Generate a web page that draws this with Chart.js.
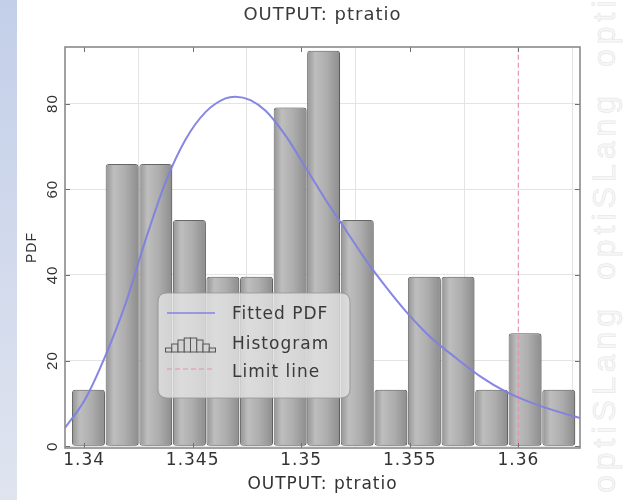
<!DOCTYPE html>
<html><head><meta charset="utf-8">
<script src="https://cdn.jsdelivr.net/npm/chart.js@4.4.1/dist/chart.umd.min.js"></script>
<style>html,body{margin:0;padding:0;background:#fff;}#wrap{width:623px;height:500px;position:relative}</style>
</head><body><div id="wrap"><canvas id="c" width="623" height="500"></canvas></div>
<script>
// ---- data ----
const binCenters = [1.34020, 1.34175, 1.34330, 1.34485, 1.34639, 1.34794, 1.34949, 1.35103, 1.35258, 1.35413, 1.35567, 1.35722, 1.35877, 1.36031, 1.36186];
const binDensity = [13.2, 65.9, 65.9, 52.8, 39.6, 39.6, 79.1, 92.3, 52.8, 13.2, 39.6, 39.6, 13.2, 26.4, 13.2];
const binWidth = 0.0015476;
const pdfX = [1.33912, 1.34005, 1.34097, 1.34189, 1.34282, 1.34374, 1.34466, 1.34559, 1.34651, 1.34697, 1.34766, 1.34836, 1.34928, 1.35021, 1.35113, 1.35205, 1.35297, 1.35390, 1.35482, 1.35597, 1.35713, 1.35828, 1.35944, 1.36059, 1.36175, 1.36290];
const pdfY = [4.3, 11.0, 21.0, 33.0, 48.0, 61.5, 71.5, 78.0, 81.2, 81.6, 80.8, 78.3, 72.5, 65.0, 57.5, 50.5, 43.5, 37.2, 31.5, 25.4, 20.6, 16.2, 12.7, 10.2, 8.2, 6.5];
const limitX = 1.36;
const xTickValues = [1.34, 1.345, 1.35, 1.355, 1.36];
const xTickLabels = ['1.34', '1.345', '1.35', '1.355', '1.36'];
const yTickValues = [0, 20, 40, 60, 80];
const legendLabels = ['Fitted PDF', 'Histogram', 'Limit line'];
const titleText = 'OUTPUT: ptratio';
const xTitle = 'OUTPUT: ptratio';
const yTitle = 'PDF';
const watermark = 'optiSLang';

const pdfColor = 'rgba(128,128,226,0.95)';
const limitColor = 'rgba(232,140,165,0.95)';

function rr(c, x, y, w, h, r) {
  c.beginPath();
  c.moveTo(x + r, y); c.lineTo(x + w - r, y); c.quadraticCurveTo(x + w, y, x + w, y + r);
  c.lineTo(x + w, y + h - r); c.quadraticCurveTo(x + w, y + h, x + w - r, y + h);
  c.lineTo(x + r, y + h); c.quadraticCurveTo(x, y + h, x, y + h - r);
  c.lineTo(x, y + r); c.quadraticCurveTo(x, y, x + r, y); c.closePath();
}

const bgPlugin = {
  id: 'bg',
  beforeUpdate(chart) { chart.ctx.letterSpacing = '1px'; },
  beforeDraw(chart) {
    const c = chart.ctx;
    c.save();
    c.fillStyle = '#ffffff';
    c.fillRect(0, 0, chart.width, chart.height);
    const g = c.createLinearGradient(0, 0, 0, chart.height);
    g.addColorStop(0, '#c3cfe9'); g.addColorStop(1, '#dfe4ef');
    c.fillStyle = g;
    c.fillRect(0, 0, 17, chart.height);
    c.font = '32px "Liberation Sans"';
    c.letterSpacing = '5px';
    c.fillStyle = '#f7f7f7';
    c.strokeStyle = '#e8e8e8';
    c.lineWidth = 0.8;
    for (const y0 of [493, 280, 67]) {
      c.save(); c.translate(615, y0); c.rotate(-Math.PI / 2);
      c.textAlign = 'left'; c.textBaseline = 'alphabetic';
      c.fillText(watermark, 0, 0); c.strokeText(watermark, 0, 0);
      c.restore();
    }
    c.restore();
    c.letterSpacing = '1px';
  },
  beforeDatasetDraw(chart, args) {
    if (args.index === 0) {
      const c = chart.ctx; c.save();
      c.shadowColor = 'rgba(0,0,0,0.28)'; c.shadowBlur = 5; c.shadowOffsetX = 3; c.shadowOffsetY = 1;
    }
  },
  afterDatasetDraw(chart, args) {
    if (args.index === 0) chart.ctx.restore();
  },
  afterDatasetsDraw(chart) {
    const c = chart.ctx, a = chart.chartArea, xs = chart.scales.x, ys = chart.scales.y;
    c.save();
    c.strokeStyle = '#6f6f6f'; c.lineWidth = 1;
    c.beginPath();
    for (const v of xTickValues) {
      const px = Math.round(xs.getPixelForValue(v)) + 0.5;
      c.moveTo(px, a.bottom); c.lineTo(px, a.bottom - 5);
      c.moveTo(px, a.top); c.lineTo(px, a.top + 5);
    }
    for (const v of yTickValues) {
      const py = Math.round(ys.getPixelForValue(v)) + 0.5;
      c.moveTo(a.left, py); c.lineTo(a.left + 5, py);
      c.moveTo(a.right, py); c.lineTo(a.right - 5, py);
    }
    c.stroke();
    c.strokeStyle = '#8a8a8a'; c.lineWidth = 1.6;
    c.strokeRect(a.left, a.top, a.right - a.left, a.bottom - a.top);
    c.restore();
  },
  afterDraw(chart) {
    const c = chart.ctx;
    c.save();
    rr(c, 158, 293, 192, 105, 9);
    c.fillStyle = 'rgba(226,226,226,0.82)'; c.fill();
    c.strokeStyle = 'rgba(150,150,150,0.8)'; c.lineWidth = 1.2; c.stroke();
    // fitted pdf sample
    c.strokeStyle = pdfColor; c.lineWidth = 1.5;
    c.beginPath(); c.moveTo(167, 313); c.lineTo(215, 313); c.stroke();
    // histogram icon
    const hs = [4, 8, 12, 14, 14, 12, 8, 4];
    c.fillStyle = '#d4d4d4'; c.strokeStyle = '#555'; c.lineWidth = 1;
    hs.forEach((h, i) => {
      const x = 165.5 + i * 6.25;
      c.fillRect(x, 352 - h, 6.25, h);
      c.strokeRect(x, 352 - h, 6.25, h);
    });
    // limit line sample
    c.strokeStyle = limitColor; c.lineWidth = 1.2; c.setLineDash([5, 3]);
    c.beginPath(); c.moveTo(167, 369); c.lineTo(215, 369); c.stroke();
    c.setLineDash([]);
    c.fillStyle = '#3a3a3a';
    c.font = '17px "DejaVu Sans"';
    c.textAlign = 'left'; c.textBaseline = 'middle';
    c.fillText(legendLabels[0], 232, 315);
    c.fillText(legendLabels[1], 232, 345);
    c.fillText(legendLabels[2], 232, 373);
    c.restore();
  }
};

function barFill(ctx) {
  const chart = ctx.chart, xs = chart.scales.x;
  if (!xs || ctx.type !== 'data' || !chart.chartArea) return '#a8a8a8';
  const v = binCenters[ctx.dataIndex];
  const cx = xs.getPixelForValue(v);
  const half = Math.abs(xs.getPixelForValue(v + binWidth / 2) - cx);
  if (!isFinite(cx) || !isFinite(half) || half === 0) return '#a8a8a8';
  const g = chart.ctx.createLinearGradient(cx - half, 0, cx + half, 0);
  g.addColorStop(0, '#929292');
  g.addColorStop(0.25, '#bebebe');
  g.addColorStop(0.6, '#adadad');
  g.addColorStop(1, '#8c8c8c');
  return g;
}

new Chart(document.getElementById('c'), {
  type: 'bar',
  data: {
    datasets: [
      {
        type: 'bar', label: legendLabels[1],
        data: binCenters.map((x, i) => ({ x: x, y: binDensity[i] })),
        backgroundColor: barFill, borderColor: '#6e6e6e', borderWidth: 1,
        borderRadius: 3, borderSkipped: false,
        barPercentage: 0.985, categoryPercentage: 1, order: 3
      },
      {
        type: 'line', label: legendLabels[0],
        data: pdfX.map((x, i) => ({ x: x, y: pdfY[i] })),
        borderColor: pdfColor, borderWidth: 2, pointRadius: 0,
        cubicInterpolationMode: 'monotone', fill: false, order: 1
      },
      {
        type: 'line', label: legendLabels[2],
        data: [{ x: limitX, y: -5 }, { x: limitX, y: 100 }],
        borderColor: limitColor, borderWidth: 1.2, borderDash: [5, 3], pointRadius: 0, fill: false, order: 0
      }
    ]
  },
  options: {
    responsive: false, animation: false, devicePixelRatio: 1,
    layout: { padding: { left: 0, right: 43, top: 0, bottom: 0 } },
    plugins: {
      legend: { display: false }, tooltip: { enabled: false },
      title: {
        display: true, text: titleText, fullSize: false,
        font: { family: 'DejaVu Sans', size: 18, weight: 'normal' }, color: '#3a3a3a',
        padding: { top: 4.2, bottom: 21.2 }
      }
    },
    scales: {
      x: {
        type: 'linear', min: 1.33912, max: 1.36284, offset: false,
        afterBuildTicks: s => { s.ticks = xTickValues.map(v => ({ value: v })); },
        ticks: {
          callback: (v, i) => xTickLabels[i], autoSkip: false, maxRotation: 0, minRotation: 0,
          font: { family: 'DejaVu Sans', size: 17 }, color: '#333', padding: 2
        },
        grid: { color: '#e4e4e4', drawTicks: false, lineWidth: 1 },
        border: { display: false },
        title: {
          display: true, text: xTitle, font: { family: 'DejaVu Sans', size: 17 }, color: '#333',
          padding: { top: 4, bottom: 4.8 }
        },
        afterFit: s => { s.height = 52; }
      },
      y: {
        type: 'linear', min: -0.4, max: 93.2,
        afterBuildTicks: s => { s.ticks = yTickValues.map(v => ({ value: v })); },
        ticks: {
          font: { family: 'Liberation Sans', size: 15 }, color: '#333', padding: 3,
          minRotation: 90, maxRotation: 90, crossAlign: 'center'
        },
        grid: { color: '#e4e4e4', drawTicks: false, lineWidth: 1 },
        border: { display: false },
        title: {
          display: true, text: yTitle, font: { family: 'Liberation Sans', size: 14 }, color: '#333',
          padding: { top: 23.6, bottom: 0 }
        },
        afterFit: s => { s.width = 65; }
      }
    }
  },
  plugins: [bgPlugin]
});
</script>
</body></html>
